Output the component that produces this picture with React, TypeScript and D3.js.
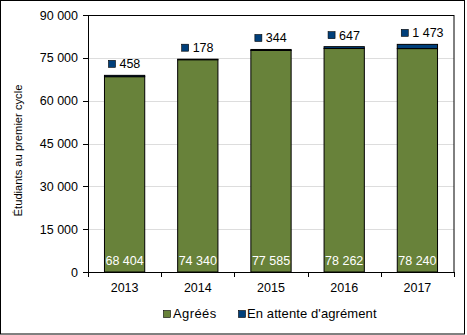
import React from "react";
import * as d3 from "d3";

const categories = ["2013", "2014", "2015", "2016", "2017"];
const agrees = [68404, 74340, 77585, 78262, 78240];
const enAttente = [458, 178, 344, 647, 1473];
const yTicks = [0, 15000, 30000, 45000, 60000, 75000, 90000];
const seriesNames = ["Agréés", "En attente d'agrément"];

const W = 467, H = 335;
const M = { left: 88, right: 454, top: 15, bottom: 272 };
const GREEN = "#68823A";
const BLUE = "#003F7A";
const FONT = "Liberation Sans, Arial, sans-serif";

const fmt = (v: number) => {
  const s = String(Math.round(v));
  return s.replace(/\B(?=(\d{3})+(?!\d))/g, " ");
};

export default function App() {
  const x = d3.scaleBand<string>().domain(categories).range([M.left, M.right]).paddingInner(0.45).paddingOuter(0.225);
  const xb = d3.scaleBand<string>().domain(categories).range([M.left, M.right]);
  const y = d3.scaleLinear().domain([0, 90000]).range([M.bottom, M.top]);
  const bw = x.bandwidth();
  return (
    <svg width={W} height={H} style={{ position: "absolute", left: 0, top: 0 }} fontFamily={FONT}>
      <rect x={0} y={0} width={W} height={H} fill="#fff" />
      <rect x={0.5} y={0.5} width={464} height={333.5} fill="none" stroke="#000" strokeWidth={1} />
      {yTicks.filter(t => t > 0).map(t => (
        <line key={"g" + t} x1={M.left} x2={M.right} y1={Math.round(y(t)) + 0.5} y2={Math.round(y(t)) + 0.5} stroke="#DDDDDD" />
      ))}
      {categories.map((c, i) => {
        const x0 = x(c)!;
        const yA = y(agrees[i]);
        const yB = y(agrees[i] + enAttente[i]);
        return (
          <g key={c}>
            <rect x={x0} y={yA} width={bw} height={M.bottom - yA} fill={GREEN} stroke="#000" strokeWidth={1} />
            <rect x={x0} y={yB} width={bw} height={yA - yB} fill={BLUE} stroke="#000" strokeWidth={1} />
            <text x={x0 + bw / 2} y={265} textAnchor="middle" fontSize={12.5} fill="#fff">{fmt(agrees[i])}</text>
            <rect x={x0 + 4} y={yB - 15} width={7} height={7} fill={BLUE} stroke="#000" strokeWidth={0.6} />
            <text x={x0 + 15} y={yB - 7} fontSize={12.5} fill="#000">{fmt(enAttente[i])}</text>
          </g>
        );
      })}
      <rect x={M.left + 0.5} y={M.top + 0.5} width={M.right - M.left - 0.5} height={M.bottom - M.top} fill="none" stroke="#000" />
      {yTicks.map(t => (
        <g key={"t" + t}>
          <line x1={M.left - 5} x2={M.left} y1={Math.round(y(t)) + 0.5} y2={Math.round(y(t)) + 0.5} stroke="#000" />
          <text x={78} y={y(t) + 4.5} textAnchor="end" fontSize={12.5} fill="#000">{fmt(t)}</text>
        </g>
      ))}
      <line x1={M.left} x2={M.right} y1={M.bottom + 0.5} y2={M.bottom + 0.5} stroke="#000" />
      {categories.map(c => (
        <line key={"xt" + c} x1={Math.round(xb(c)!) + 0.5} x2={Math.round(xb(c)!) + 0.5} y1={M.bottom} y2={M.bottom + 5} stroke="#000" />
      ))}
      <line x1={M.right + 0.5} x2={M.right + 0.5} y1={M.bottom} y2={M.bottom + 5} stroke="#000" />
      {categories.map(c => (
        <text key={"xl" + c} x={xb(c)! + xb.bandwidth() / 2} y={292} textAnchor="middle" fontSize={12.5} fill="#000">{c}</text>
      ))}
      <text transform={`translate(22,150.5) rotate(-90)`} textAnchor="middle" fontSize={11.2} fill="#000">Étudiants au premier cycle</text>
      <g>
        <rect x={163.5} y={310.5} width={7} height={7} fill={GREEN} stroke="#000" strokeWidth={0.6} />
        <text x={173} y={318} fontSize={13} letterSpacing={0.4} fill="#000">{seriesNames[0]}</text>
        <rect x={238.5} y={310.5} width={7} height={7} fill={BLUE} stroke="#000" strokeWidth={0.6} />
        <text x={247} y={318} fontSize={13} letterSpacing={0.1} fill="#000">{seriesNames[1]}</text>
      </g>
    </svg>
  );
}
